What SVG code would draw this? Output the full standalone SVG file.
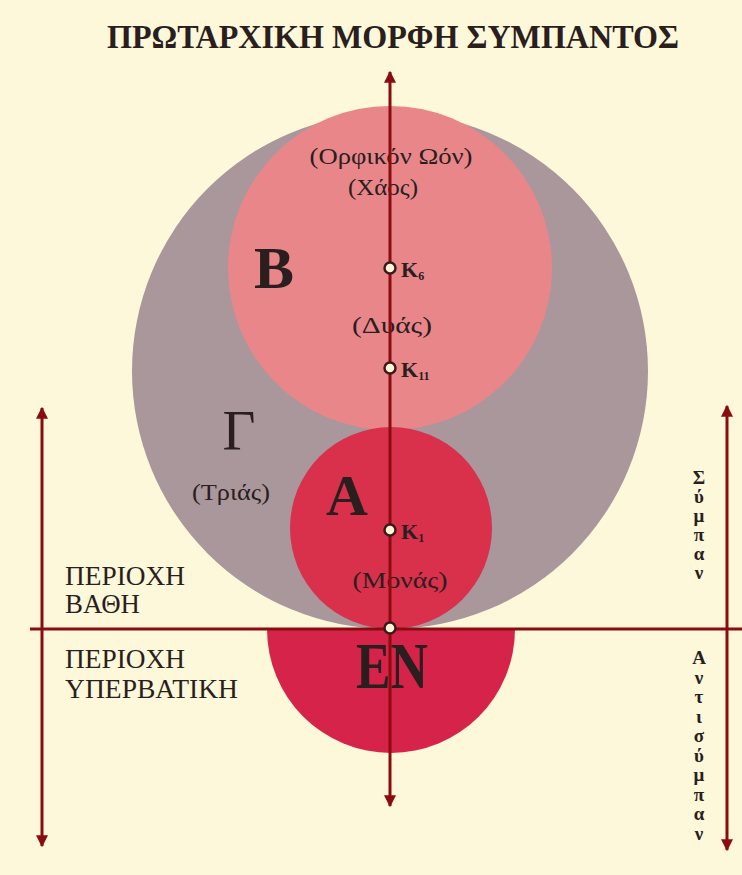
<svg xmlns="http://www.w3.org/2000/svg" width="742" height="875" viewBox="0 0 742 875">
<defs>
<style>
.t{font-family:"Liberation Serif","DejaVu Serif",serif;fill:#2a1e1e}
.lbl{font-size:23px;text-anchor:middle}
.big{font-weight:bold;text-anchor:middle}
.reg{font-size:27px}
.vt{font-size:19px;font-weight:bold;text-anchor:middle}
.ax{stroke:#8a0c10;stroke-width:3;fill:none}
.dot{fill:#fbf4d8;stroke:#3a1a1a;stroke-width:2.5}
.k{font-size:22px;font-weight:bold}
.sub{font-size:12px}
</style>
<marker id="ah" viewBox="0 0 10 10" refX="9" refY="5" markerWidth="4" markerHeight="4" orient="auto-start-reverse" markerUnits="strokeWidth">
<path d="M0,0 L10,5 L0,10 z" fill="#8a0c10"/>
</marker>
</defs>
<rect width="742" height="875" fill="#fdf8da"/>
<text class="t" x="393" y="48" font-size="33" font-weight="bold" text-anchor="middle" textLength="572" lengthAdjust="spacingAndGlyphs">ΠΡΩΤΑΡΧΙΚΗ ΜΟΡΦΗ ΣΥΜΠΑΝΤΟΣ</text>
<g id="en"><path d="M267,629 A124,124 0 0 0 515,629 Z" fill="#d5234a"/><text class="t big" x="392" y="688" font-size="66" textLength="72" lengthAdjust="spacingAndGlyphs">ΕΝ</text></g>
<g id="gamma"><circle cx="390" cy="371" r="258" fill="#a9979c"/><text class="t" x="239" y="450" font-size="57" text-anchor="middle">Γ</text><text class="t lbl" x="231" y="500" textLength="78" lengthAdjust="spacingAndGlyphs">(Τριάς)</text></g>
<g id="beta"><circle cx="390" cy="268" r="162" fill="#e9868a"/><text class="t big" x="274" y="288" font-size="60">Β</text><text class="t lbl" x="391" y="164" textLength="163" lengthAdjust="spacingAndGlyphs">(Ορφικόν Ωόν)</text><text class="t lbl" x="383" y="195" textLength="70" lengthAdjust="spacingAndGlyphs">(Χάος)</text><text class="t lbl" x="392" y="333" textLength="80" lengthAdjust="spacingAndGlyphs">(Δυάς)</text></g>
<g id="alpha"><circle cx="391" cy="528" r="101" fill="#d9304c"/><text class="t big" x="347" y="515" font-size="58">Α</text><text class="t lbl" x="400" y="588" textLength="95" lengthAdjust="spacingAndGlyphs">(Μονάς)</text></g>
<g id="left-labels"><text class="t reg" x="65" y="585" textLength="120" lengthAdjust="spacingAndGlyphs">ΠΕΡΙΟΧΗ</text><text class="t reg" x="65" y="613" textLength="75" lengthAdjust="spacingAndGlyphs">ΒΑΘΗ</text><text class="t reg" x="65" y="668" textLength="120" lengthAdjust="spacingAndGlyphs">ΠΕΡΙΟΧΗ</text><text class="t reg" x="65" y="698" textLength="173" lengthAdjust="spacingAndGlyphs">ΥΠΕΡΒΑΤΙΚΗ</text></g>
<g id="right-labels">
<text class="t vt" x="699" y="484">Σ<tspan x="699" dy="19">ύ</tspan><tspan x="699" dy="19">μ</tspan><tspan x="699" dy="19">π</tspan><tspan x="699" dy="19">α</tspan><tspan x="699" dy="19">ν</tspan></text>
<text class="t vt" x="699" y="664">Α<tspan x="699" dy="19.5">ν</tspan><tspan x="699" dy="19.5">τ</tspan><tspan x="699" dy="19.5">ι</tspan><tspan x="699" dy="19.5">σ</tspan><tspan x="699" dy="19.5">ύ</tspan><tspan x="699" dy="19.5">μ</tspan><tspan x="699" dy="19.5">π</tspan><tspan x="699" dy="19.5">α</tspan><tspan x="699" dy="19.5">ν</tspan></text>
</g>
<g id="connectors">
<line class="ax" x1="390" y1="640" x2="390" y2="72" marker-end="url(#ah)"/>
<line class="ax" x1="390" y1="640" x2="390" y2="806" marker-end="url(#ah)"/>
<line class="ax" x1="30" y1="629" x2="742" y2="629"/>
<line class="ax" x1="42" y1="629" x2="42" y2="408" marker-end="url(#ah)"/>
<line class="ax" x1="42" y1="629" x2="42" y2="846" marker-end="url(#ah)"/>
<line class="ax" x1="727" y1="629" x2="727" y2="406" marker-end="url(#ah)"/>
<line class="ax" x1="727" y1="629" x2="727" y2="850" marker-end="url(#ah)"/>
</g>
<g id="points">
<circle class="dot" cx="390" cy="268" r="5.5"/><text class="t k" x="401" y="277">K<tspan class="sub" dy="3">6</tspan></text>
<circle class="dot" cx="390" cy="368" r="5.5"/><text class="t k" x="401" y="377">K<tspan class="sub" dy="3">11</tspan></text>
<circle class="dot" cx="390" cy="530" r="5.5"/><text class="t k" x="401" y="539">K<tspan class="sub" dy="3">1</tspan></text>
<circle class="dot" cx="390" cy="628" r="5.5"/>
</g>
</svg>
